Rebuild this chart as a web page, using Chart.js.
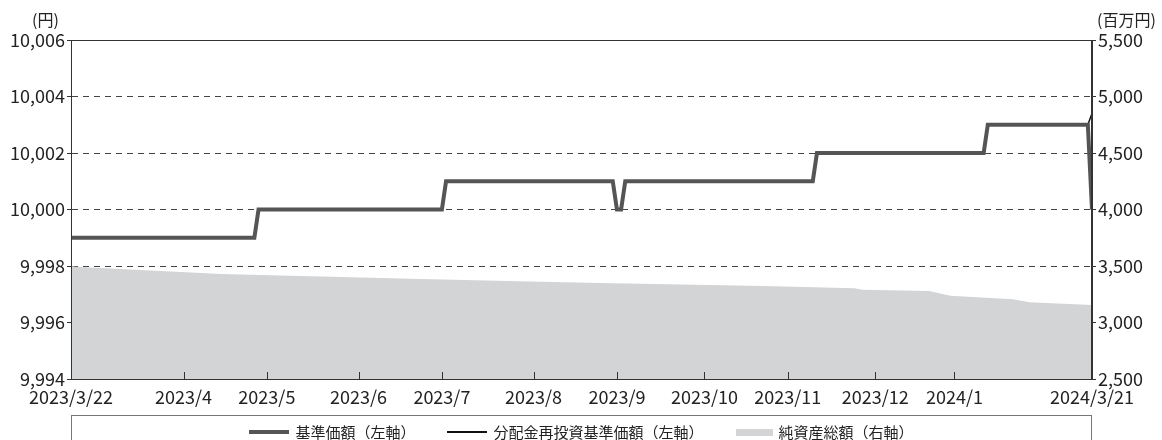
<!DOCTYPE html>
<html>
<head>
<meta charset="utf-8">
<script src="https://cdn.jsdelivr.net/npm/chart.js@4"></script>
<style>
  html, body { margin: 0; padding: 0; background: #fff; }
  #wrap { position: relative; width: 1162px; height: 440px; overflow: hidden; }
  #chart { position: absolute; left: 0; top: 0; }
  .unit { position: absolute; top: 7px; font: 16px "Noto Sans CJK JP", sans-serif; color: #222; }
  #legend {
    position: absolute; left: 71px; top: 415px; width: 1021px; height: 30px;
    border: 1px solid #777; box-sizing: border-box;
    display: flex; justify-content: center; align-items: flex-start; padding-top: 7px;
    font: 15px "Noto Sans CJK JP", sans-serif; color: #222;
  }
  .item { display: flex; align-items: center; margin: 0 16px; line-height: 18px; }
  .sw { display: inline-block; width: 40px; margin-right: 6px; }
</style>
</head>
<body>
<div id="wrap">
  <canvas id="chart" width="1162" height="440"></canvas>
  <div class="unit" style="left:32px">(円)</div>
  <div class="unit" style="left:1097px">(百万円)</div>
  <div id="legend">
    <div class="item"><span class="sw" style="height:4px;background:#555"></span>基準価額（左軸）</div>
    <div class="item"><span class="sw" style="height:2px;background:#111"></span>分配金再投資基準価額（左軸）</div>
    <div class="item"><span class="sw" style="height:7px;width:37px;background:#d3d4d6"></span>純資産総額（右軸）</div>
  </div>
</div>
<script>
// x = business day index from 2023/3/22 (0) to 2024/3/21 (245)
const tickIdx = [0, 27, 47, 69, 89, 111, 131, 152, 172, 193, 212, 245]
const tickLabels = ["2023/3/22", "2023/4", "2023/5", "2023/6", "2023/7", "2023/8",
	"2023/9", "2023/10", "2023/11", "2023/12", "2024/1", "2024/3/21"]

// 基準価額 / 分配金再投資基準価額 (円), at the days where they change
const priceIdx = [0, 44, 45, 89, 90, 130, 131, 132, 133, 178, 179, 219, 220, 244, 245]
const priceVals = [9999, 9999, 10000, 10000, 10001, 10001, 10000, 10000, 10001, 10001, 10002, 10002, 10003, 10003, 10000]
const reinvestVals = [9999, 9999, 10000, 10000, 10001, 10001, 10000, 10000, 10001, 10001, 10002, 10002, 10003, 10003, 10003.4]

// 純資産総額 (百万円)
const assetIdx = [0, 1, 36, 60, 84, 110, 130, 150, 166, 188, 190, 206, 207, 211, 226, 230, 245]
const assetVals = [3500, 3494, 3430, 3407, 3385, 3362, 3347, 3335, 3323, 3303, 3290, 3279, 3270, 3237, 3205, 3179, 3155]

function toPoints(xs, ys) {
	return xs.map((x, i) => ({ x: x, y: ys[i] }))
}

Chart.defaults.font.family = "'Noto Sans CJK JP', 'Noto Sans', sans-serif"
Chart.defaults.color = "#222"

//frame and inner month ticks
const framePlugin = {
	id: "frame",
	afterDraw(chart) {
		const ctx = chart.ctx
		const a = chart.chartArea
		const xs = chart.scales.x
		ctx.save()
		ctx.strokeStyle = "#333"
		ctx.lineWidth = 1
		ctx.strokeRect(Math.round(a.left) + 0.5, Math.round(a.top) + 0.5,
			Math.round(a.right - a.left) - 1, Math.round(a.bottom - a.top))
		ctx.beginPath()
		tickIdx.slice(1, -1).forEach(v => {
			const px = Math.round(xs.getPixelForValue(v)) + 0.5
			ctx.moveTo(px, a.bottom)
			ctx.lineTo(px, a.bottom - 7)
		})
		ctx.stroke()
		ctx.restore()
	}
}

const chart = new Chart(document.getElementById("chart"), {
	type: "line",
	data: {
		datasets: [
			{
				label: "基準価額（左軸）",
				data: toPoints(priceIdx, priceVals),
				yAxisID: "y",
				borderColor: "#555",
				borderWidth: 4,
				pointRadius: 0,
				order: 0
			},
			{
				label: "分配金再投資基準価額（左軸）",
				data: toPoints(priceIdx, reinvestVals),
				yAxisID: "y",
				borderColor: "#111",
				borderWidth: 1.5,
				pointRadius: 0,
				order: 1
			},
			{
				label: "純資産総額（右軸）",
				data: toPoints(assetIdx, assetVals),
				yAxisID: "y1",
				borderWidth: 0,
				borderColor: "#d3d4d6",
				backgroundColor: "#d3d4d6",
				fill: "start",
				pointRadius: 0,
				order: 2
			}
		]
	},
	options: {
		responsive: false,
		animation: false,
		layout: { padding: { top: 40, left: 0, right: 0, bottom: 25 } },
		plugins: {
			legend: { display: false },
			tooltip: { enabled: false }
		},
		scales: {
			x: {
				type: "linear",
				min: 0,
				max: 245,
				afterBuildTicks: scale => {
					scale.ticks = tickIdx.map(v => ({ value: v }))
				},
				afterFit: scale => { scale.height = 36 },
				ticks: {
					autoSkip: false,
					maxRotation: 0,
					padding: 7,
					font: { size: 18 },
					callback: v => tickLabels[tickIdx.indexOf(v)]
				},
				grid: { display: false, drawTicks: false },
				border: { display: false }
			},
			y: {
				position: "left",
				min: 9994,
				max: 10006,
				afterFit: scale => { scale.width = 71 },
				ticks: {
					stepSize: 2,
					padding: 2,
					font: { size: 18 },
					callback: v => v.toLocaleString("en-US")
				},
				grid: {
					color: c => (c.tick.value === 9994 || c.tick.value === 10006) ? "rgba(0,0,0,0)" : "#444",
					lineWidth: 1,
					tickLength: 4,
					tickColor: "#333"
				},
				border: { color: "#333", dash: [6, 5] }
			},
			y1: {
				position: "right",
				min: 2500,
				max: 5500,
				afterFit: scale => { scale.width = 70 },
				ticks: {
					stepSize: 500,
					padding: 2,
					font: { size: 18 },
					callback: v => v.toLocaleString("en-US")
				},
				grid: { drawOnChartArea: false, tickLength: 4, tickColor: "#333" },
				border: { color: "#333" }
			}
		}
	},
	plugins: [framePlugin]
})
</script>
</body>
</html>
